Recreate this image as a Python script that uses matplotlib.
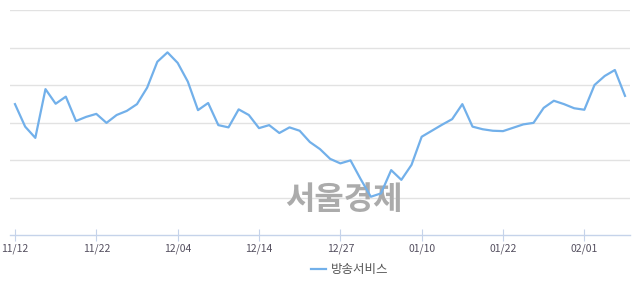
import matplotlib
matplotlib.use("Agg")
import numpy as np
from matplotlib import pyplot as plt

plt.rcParams['font.family'] = ['Noto Sans CJK KR', 'DejaVu Sans']

# 방송서비스 index (arbitrary units, gridlines every 10)
values = [34.9, 28.9, 25.9, 38.9, 35.0, 36.9, 30.4, 31.5, 32.3, 29.9,
          32.0, 33.1, 34.9, 39.3, 46.2, 48.7, 45.9, 40.9, 33.3, 35.2,
          29.3, 28.7, 33.5, 32.0, 28.5, 29.3, 27.2, 28.7, 27.8, 24.8,
          22.9, 20.3, 19.1, 19.9, 14.9, 10.2, 11.1, 17.3, 14.7, 18.7,
          26.2, 27.8, 29.4, 30.9, 34.9, 28.9, 28.2, 27.8, 27.7, 28.6,
          29.5, 29.9, 33.9, 35.8, 34.9, 33.8, 33.4, 40.0, 42.4, 44.0,
          37.1]
tick_labels = ['11/12', '11/22', '12/04', '12/14', '12/27', '01/10', '01/22', '02/01']
tick_step = 8
series_name = '방송서비스'

x = np.arange(len(values))

fig = plt.figure(figsize=(6.4, 2.94), dpi=100)
ax = fig.add_axes([10 / 640, 59 / 294, 620 / 640, 225 / 294])

ax.plot(x, values, color='#72b0ea', linewidth=1.6, zorder=3, label=series_name)

ax.set_xlim(-0.49, len(values) - 1 + 0.49)
ax.set_ylim(0, 60)
ax.set_yticks(np.arange(10, 61, 10))
ax.yaxis.grid(True, color='#e2e2e2', linewidth=1)
ax.set_axisbelow(True)
ax.tick_params(axis='y', left=False, labelleft=False)

ax.set_xticks(x[::tick_step])
ax.set_xticklabels(tick_labels)
ax.tick_params(axis='x', direction='inout', length=8, width=0.8, color='#c5d3ea',
               labelsize=7.5, labelcolor='#555060', pad=2)

for side in ['top', 'right', 'left']:
    ax.spines[side].set_visible(False)
ax.spines['bottom'].set_color('#c5d3ea')
ax.spines['bottom'].set_linewidth(1)

# watermark, under the line but over the grid
ax.text(344 / 640, 1 - 200 / 294, '서울경제', transform=fig.transFigure,
        fontsize=23, fontweight='bold', color='#ababab',
        ha='center', va='center', zorder=2)

fig.legend(loc='center', bbox_to_anchor=(350 / 640, 1 - 270 / 294), frameon=False,
           fontsize=9, handlelength=1.2, handletextpad=0.4, labelcolor='#555555')

fig.savefig('out.png', dpi=100)
